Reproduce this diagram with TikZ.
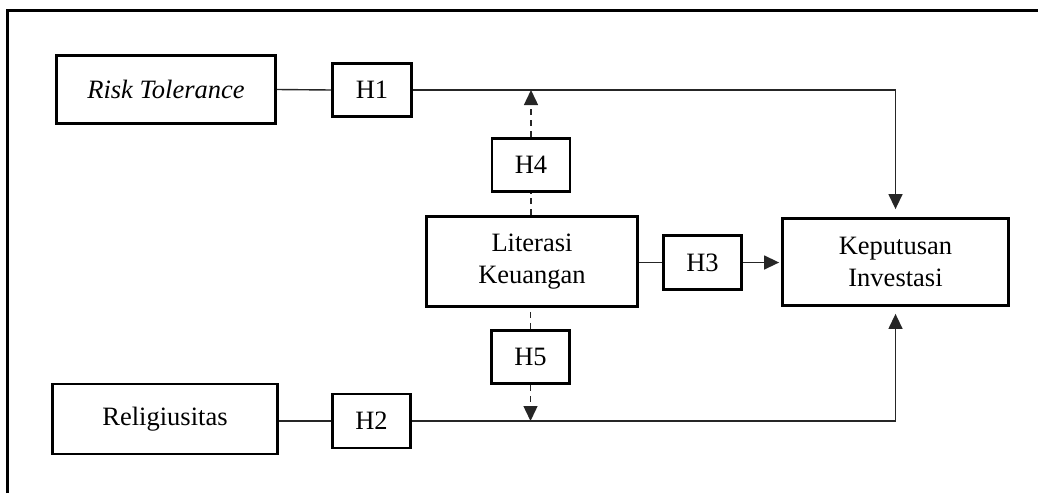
\documentclass[tikz,border=0pt]{standalone}
\usepackage{fontspec}
\setmainfont{Liberation Serif}
\usetikzlibrary{arrows.meta}
\begin{document}
\begin{tikzpicture}[x=1pt,y=-1pt,
  box/.style={draw=black, line width=2.8pt, fill=white, minimum width=#1, inner sep=0pt, align=center, font=\fontsize{26.5}{32}\selectfont},
  conn/.style={draw=black!85, line width=1.4pt},
  tip/.style={-{Triangle[length=15pt,width=14pt]}},
  arr/.style={conn, tip},
  dsh/.style={conn, dash pattern=on 6pt off 5pt}
]
\useasboundingbox (0,0) rectangle (1038,493);
\draw[line width=3pt] (7,493) -- (7,10) -- (1038,10);

\node[box=219pt, minimum height=68pt] (rt) at (166,89.5) {\itshape Risk Tolerance};
\node[box=79pt, minimum height=53pt] (h1) at (372,90) {H1};
\node[box=78pt, minimum height=53pt] (h4) at (531,165) {H4};
\node[box=211pt, minimum height=90pt] (lk) at (532,261.5) {Literasi\\Keuangan};
\node[box=78pt, minimum height=54pt] (h3) at (702.5,262.5) {H3};
\node[box=226pt, minimum height=87pt] (ki) at (895.5,262) {Keputusan\\Investasi};
\node[box=78pt, minimum height=53pt] (h5) at (530.5,357) {H5};
\node[box=225pt, minimum height=70pt] (rel) at (165,419) {Religiusitas};
\node[box=78pt, minimum height=54pt] (h2) at (371.5,421) {H2};

\draw[conn] (rt.east) -- (h1.west);
\draw[arr, shorten >=8pt] (h1.east) -| (ki.north);
\draw[conn] (rel.east |- h2.west) -- (h2.west);
\draw[arr, shorten >=7pt] (h2.east) -| (ki.south);
\draw[conn] (lk.east |- h3.west) -- (h3.west);
\draw[arr, shorten >=2pt] (h3.east) -- (h3.east -| ki.west);

\draw[dsh] (h4.south |- lk.north) -- (h4.south);
\draw[dsh, tip] (h4.north) -- (h4.north |- h1.east);
\draw[dsh, shorten <=4pt] (h5.north |- lk.south) -- (h5.north);
\draw[dsh, tip] (h5.south) -- (h5.south |- h2.east);
\end{tikzpicture}
\end{document}
